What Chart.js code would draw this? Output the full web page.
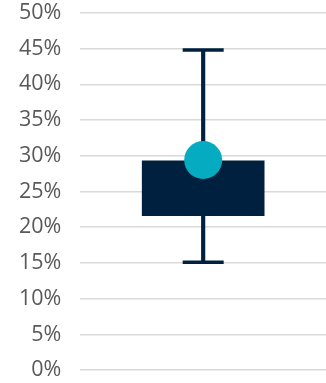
<!DOCTYPE html>
<html>
<head>
<meta charset="utf-8">
<script src="https://cdn.jsdelivr.net/npm/chart.js@4"></script>
<style>
  html, body { margin: 0; padding: 0; background: #fff; overflow: hidden; }
</style>
</head>
<body>
<canvas id="boxChart" width="326" height="383"></canvas>
<script>
const categories = ["Ratio"];
const boxRange = [21.6, 29.3];      // lower / upper quartile
const whiskerRange = [15.1, 44.8];  // min / max
const whiskerMax = [44.8];
const whiskerMin = [15.1];
const meanValues = [29.4];
const tickStep = 5;

const navy = "#00203f";
const teal = "#05abc1";

const ctx = document.getElementById("boxChart").getContext("2d");

new Chart(ctx, {
    data: {
        labels: categories,
        datasets: [
            {
                type: "line",
                data: meanValues,
                showLine: false,
                pointStyle: "circle",
                pointRadius: 19,
                pointBackgroundColor: teal,
                pointBorderWidth: 0,
                order: 1,
            },
            {
                type: "bar",
                data: [boxRange],
                backgroundColor: navy,
                barThickness: 122,
                grouped: false,
                order: 2,
            },
            {
                type: "bar",
                data: [whiskerRange],
                backgroundColor: navy,
                barThickness: 3.5,
                grouped: false,
                order: 3,
            },
            {
                type: "line",
                data: whiskerMax,
                showLine: false,
                pointStyle: "line",
                pointRadius: 20.5,
                pointBorderColor: navy,
                pointBorderWidth: 3.5,
                order: 3,
            },
            {
                type: "line",
                data: whiskerMin,
                showLine: false,
                pointStyle: "line",
                pointRadius: 20.5,
                pointBorderColor: navy,
                pointBorderWidth: 3.5,
                order: 3,
            },
        ],
    },
    options: {
        responsive: false,
        animation: false,
        layout: { autoPadding: false, padding: { top: 0, bottom: 0, right: 0, left: 19 } },
        plugins: { legend: { display: false }, tooltip: { enabled: false } },
        scales: {
            x: {
                display: false,
            },
            y: {
                min: 0,
                max: 50,
                border: { display: false },
                grid: {
                    color: "#d9d9d9",
                    lineWidth: 1.5,
                    drawTicks: true,
                    tickLength: 19,
                    tickColor: "rgba(0,0,0,0)",
                },
                ticks: {
                    stepSize: tickStep,
                    padding: 0,
                    color: "#595959",
                    font: { family: "'Open Sans'", size: 21.5 },
                    callback: (v) => v + "%",
                },
            },
        },
    },
});
</script>
</body>
</html>
